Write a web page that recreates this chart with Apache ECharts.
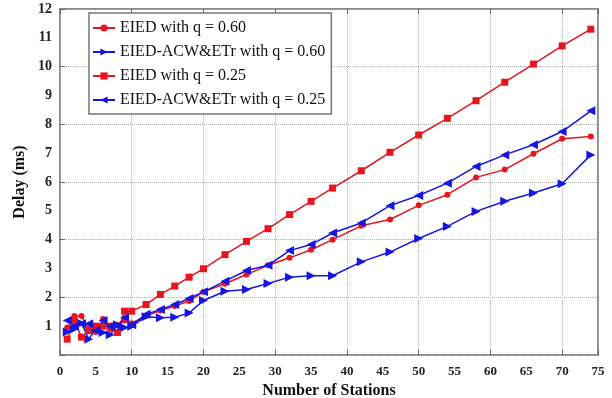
<!DOCTYPE html>
<html><head><meta charset="utf-8">
<script src="https://cdn.jsdelivr.net/npm/echarts@6/dist/echarts.min.js"></script>
<style>html,body{margin:0;padding:0;background:#fff}#c{width:612px;height:398px}</style>
</head><body><div id="c"></div>
<script>
const stations = [1,2,3,4,5,6,7,8,9,10,12,14,16,18,20,23,26,29,32,35,38,42,46,50,54,58,62,66,70,74];
const eied060 = [0.95,1.35,1.35,0.9,0.8,1.25,0.9,1.05,1.2,1.1,1.35,1.54,1.70,1.87,2.19,2.47,2.79,3.11,3.37,3.65,4.00,4.48,4.70,5.19,5.56,6.16,6.43,6.98,7.50,7.58];
const acw060 = [0.8,0.9,1.1,0.55,0.9,0.78,0.7,1.05,0.95,1.0,1.33,1.29,1.31,1.46,1.89,2.21,2.27,2.48,2.70,2.75,2.75,3.23,3.57,4.04,4.46,4.98,5.33,5.62,5.94,6.94];
const eied025 = [0.55,1.2,0.62,0.85,1.0,1.0,1.0,0.78,1.52,1.52,1.75,2.10,2.39,2.70,2.99,3.48,3.94,4.38,4.87,5.33,5.79,6.39,7.03,7.63,8.21,8.82,9.46,10.09,10.72,11.30];
const acw025 = [1.2,1.0,1.08,1.08,0.85,1.2,1.0,1.0,1.3,1.05,1.41,1.58,1.75,1.96,2.19,2.56,2.93,3.11,3.62,3.83,4.23,4.58,5.18,5.53,5.96,6.54,6.94,7.29,7.75,8.47];
const seriesNames = ['EIED with q = 0.60','EIED-ACW&ETr with q = 0.60','EIED with q = 0.25','EIED-ACW&ETr with q = 0.25'];
const xAxisName = 'Number of Stations';
const yAxisName = 'Delay (ms)';

const RED = '#e8141e', BLUE = '#1616e0';
const serif = '"Liberation Serif","Times New Roman",serif';
function pts(v){ return stations.map((x,i)=>[x,v[i]]); }
const chart = echarts.init(document.getElementById('c'));
const mk = (name, data, color, symbol, size, rot) => ({
  name, type:'line', data: pts(data), xAxisIndex:0, yAxisIndex:0,
  color, symbol, symbolSize:size, symbolRotate:rot,
  lineStyle:{color, width:1.5}, itemStyle:{color},
  animation:false
});
chart.setOption({
  animation:false,
  grid:{left:60, right:14, top:9, bottom:43, show:true, borderColor:'#8a8a8a', borderWidth:2, backgroundColor:'#fff',
        outerBoundsMode:'none', containLabel:false},
  legend:{
    orient:'vertical', left:89, top:13, padding:[7,6,6,3], itemGap:8,
    backgroundColor:'#fff', borderColor:'#777', borderWidth:1.5,
    itemWidth:22, itemHeight:9,
    textStyle:{fontFamily:serif, fontSize:16, color:'#111'},
    data: seriesNames
  },
  xAxis:[
    {type:'value', min:0, max:75, interval:5, position:'bottom',
     name:xAxisName, nameLocation:'middle', nameGap:28, nameMoveOverlap:false,
     nameTextStyle:{fontFamily:serif, fontWeight:'bold', fontSize:16, color:'#111'},
     axisLine:{show:false}, axisTick:{show:false}, splitLine:{show:false},
     axisLabel:{fontFamily:serif, fontWeight:'bold', fontSize:13, color:'#222', margin:10}},
    {type:'value', min:0, max:75, interval:10, position:'bottom',
     axisLine:{show:false}, axisLabel:{show:false},
     axisTick:{show:true, inside:true, length:5, lineStyle:{color:'#666'}},
     splitLine:{show:true, lineStyle:{type:'dotted', color:'#b0b0b0', width:1}}},
    {type:'value', min:0, max:75, interval:10, position:'top',
     axisLine:{show:false}, axisLabel:{show:false},
     axisTick:{show:true, inside:true, length:5, lineStyle:{color:'#666'}},
     splitLine:{show:false}}
  ],
  yAxis:[
    {type:'value', min:0, max:12, interval:1, position:'left',
     name:yAxisName, nameLocation:'middle', nameGap:32, nameRotate:90, nameMoveOverlap:false,
     nameTextStyle:{fontFamily:serif, fontWeight:'bold', fontSize:16, color:'#111'},
     axisLine:{show:false}, axisTick:{show:false}, splitLine:{show:false},
     axisLabel:{fontFamily:serif, fontWeight:'bold', fontSize:14, color:'#222', margin:8,
       formatter:v=> v===0 ? '' : String(v)}},
    {type:'value', min:0, max:12, interval:2, position:'left', offset:0,
     axisLine:{show:false}, axisLabel:{show:false},
     axisTick:{show:true, inside:true, length:5, lineStyle:{color:'#666'}},
     splitLine:{show:true, lineStyle:{type:'dotted', color:'#b0b0b0', width:1}}}
  ],
  series:[
    mk(seriesNames[0], eied060, RED, 'circle', 6, 0),
    mk(seriesNames[1], acw060, BLUE, 'triangle', 9, -90),
    mk(seriesNames[2], eied025, RED, 'rect', 7, 0),
    mk(seriesNames[3], acw025, BLUE, 'triangle', 9, 90)
  ]
});
</script></body></html>
